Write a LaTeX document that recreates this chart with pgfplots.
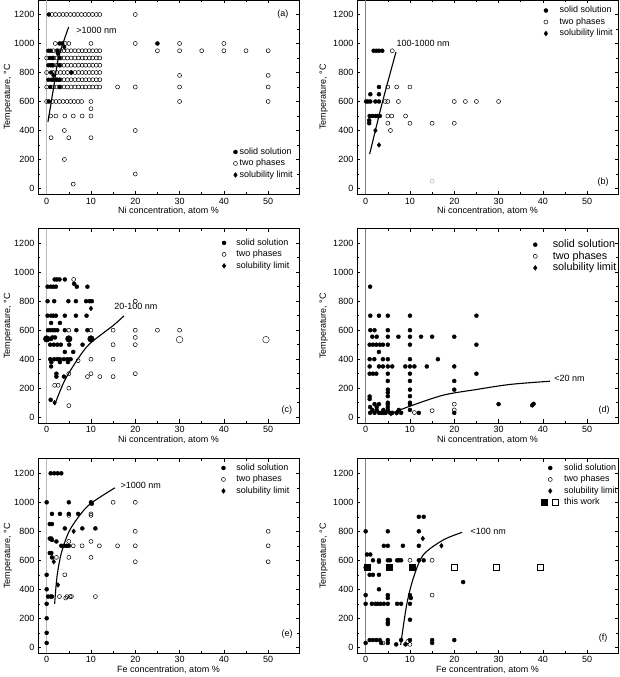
\documentclass[border=0pt]{standalone}
\usepackage{pgfplots}
\pgfplotsset{compat=1.18}
\usepackage{fontspec}
\setmainfont{Liberation Sans}
\newcommand\fs{\fontsize{9}{10}\selectfont}
\newcommand\fd{\fontsize{10.8}{12}\selectfont}
\def\lgap{12pt}
\pgfplotsset{
 ssol/.style={only marks, mark=*, mark size=2pt, black, legend image code/.code={\draw[black, mark=*, mark size=2pt] plot coordinates {(0pt,0pt)}; \path[draw=none, fill=none] (-2.5pt,-2.5pt) rectangle (\lgap,2.5pt);}},
 twoph/.style={only marks, mark=o, mark size=2pt, black, mark options={line width=0.5pt}, legend image code/.code={\draw[black, mark=o, mark size=2pt, line width=0.5pt] plot coordinates {(0pt,0pt)}; \path[draw=none, fill=none] (-2.5pt,-2.5pt) rectangle (\lgap,2.5pt);}},
 sollim/.style={only marks, mark=diamond*, mark size=2.4pt, black, legend image code/.code={\draw[black, mark=diamond*, mark size=2.4pt] plot coordinates {(0pt,0pt)}; \path[draw=none, fill=none] (-2.5pt,-2.5pt) rectangle (\lgap,2.5pt);}},
 curve/.style={black, line width=1.1pt, smooth, forget plot, mark=none},
 panel/.style={scale only axis, width=261.4pt, height=194.3pt, anchor=south west,
   xmin=-2, xmax=57, ymin=-40, ymax=1300, xtick={0,10,...,50}, ytick={0,200,...,1200},
   minor x tick num=1, minor y tick num=1, tick align=inside, major tick length=3.5pt, minor tick length=2pt,
   tick style={black, line width=0.5pt}, axis line style={line width=0.6pt},
   ylabel={Temperature, °C}, ticklabel style={font=\fs}, label style={font=\fs},
   /pgf/number format/assume math mode=true, /pgf/number format/1000 sep={}, scaled ticks=false,
   xlabel style={at={(axis description cs:0.5,-0.084)}, anchor=center},
   legend cell align=left,
   legend style={draw=none, fill=none, font=\fs, anchor=north east, inner sep=0pt, outer sep=0pt, row sep=2.1pt, column sep=0pt, nodes={inner sep=0.5pt, text height=6.5pt, text depth=1.9pt}}},
 lcol/.style={panel, ylabel style={at={(axis description cs:-0.114,0.5)}, anchor=center}},
 rcol/.style={panel, ylabel style={at={(axis description cs:-0.127,0.5)}, anchor=center}},
}
\begin{document}
\begin{tikzpicture}
\path[use as bounding box] (0,0) rectangle (619pt,677pt);

% ---------------- (a)
\def\lgap{3.7pt}
\begin{axis}[lcol, at={(37.8pt,482.7pt)}, xlabel={Ni concentration, atom \%}, legend style={at={(0.977,0.242)}}]
\addlegendimage{ssol}\addlegendentry{solid solution}
\addlegendimage{twoph}\addlegendentry{two phases}
\addlegendimage{sollim}\addlegendentry{solubility limit}
\addplot[forget plot, gray!55, line width=1.3pt] coordinates {(0,-40) (0,1300)};
\addplot[twoph, forget plot] coordinates {
(1.2,1200)(2.0,1200)(2.85,1200)(3.7,1200)(4.5,1200)(5.35,1200)(6.2,1200)(7.0,1200)(7.85,1200)(8.7,1200)(9.5,1200)(10.35,1200)(11.2,1200)(12.0,1200)(20,1200)
(1.95,1000)(4.2,1000)(5.0,1000)(10,1000)(20,1000)(30,1000)(40,1000)
(1.5,950)(2.3,950)(3.1,950)(3.9,950)(4.7,950)(5.5,950)(6.4,950)(7.2,950)(8.0,950)(8.8,950)(9.6,950)(10.4,950)(11.2,950)(12.0,950)
(1.5,900)(2.3,900)(3.1,900)(3.9,900)(4.7,900)(5.5,900)(6.4,900)(7.2,900)(8.0,900)(8.8,900)(9.6,900)(10.4,900)(11.2,900)(12.0,900)
(1.5,850)(2.3,850)(3.1,850)(3.9,850)(4.7,850)(5.5,850)(6.4,850)(7.2,850)(8.0,850)(8.8,850)(9.6,850)(10.4,850)(11.2,850)(12.0,850)
(1.5,800)(2.3,800)(3.1,800)(3.9,800)(4.7,800)(5.5,800)(6.4,800)(7.2,800)(8.0,800)(8.8,800)(9.6,800)(10.4,800)(11.2,800)(12.0,800)
(1.5,750)(2.3,750)(3.1,750)(3.9,750)(4.7,750)(5.5,750)(6.4,750)(7.2,750)(8.0,750)(8.8,750)(9.6,750)(10.4,750)(11.2,750)(12.0,750)
(1.5,700)(2.3,700)(3.1,700)(3.9,700)(4.7,700)(5.5,700)(6.4,700)(7.2,700)(8.0,700)(8.8,700)(9.6,700)(10.4,700)(11.2,700)(12.0,700)
(0,900)(0,800)(0,700)
(25,950)(30,950)(35,950)(40,950)(45,950)(50,950)
(30,780)(50,780)(16,700)(20,700)(30,700)(50,700)
(0,600)(1.3,600)(2.1,600)(2.9,600)(3.7,600)(4.6,600)(5.4,600)(6.2,600)(7.1,600)(7.9,600)(10,600)(30,600)(50,600)
(10,550)(0.9,500)(2.1,500)(4.1,500)(6.0,500)(8.0,500)(10,500)
(4,400)(20,400)(1,350)(5,350)(10,350)(4,200)(20,100)(6,30)};
\addplot[ssol, forget plot] coordinates {
(0.5,1200)(0.4,950)(0.9,950)(2.5,950)(0.7,900)(1.3,900)(2.9,900)(0.4,850)(0.9,850)(1.3,850)(2.9,850)
(1.0,800)(0.4,750)(1.1,750)(1.8,750)(2.4,750)(2.9,750)(0.8,700)(2.9,700)(0.5,600)(2.9,1000)(3.5,1000)(25,1000)};
\addplot[sollim, forget plot] coordinates {(1.5,780)(2.5,930)(4.0,975)(5.6,800)};
\addplot[curve] coordinates {(0.29,459)(1.57,697)(2.55,885)(3.68,1000)(4.96,1114)};
\node[font=\fs, anchor=west] at (axis cs:5.9,1090) {>1000 nm};
\node[font=\fs] at (axis cs:53.3,1202) {(a)};
\end{axis}

% ---------------- (b)
\def\lgap{13.3pt}
\begin{axis}[rcol, at={(356.8pt,482.7pt)}, xlabel={Ni concentration, atom \%}, legend style={at={(0.981,0.970)}}]
\addlegendimage{ssol}\addlegendentry{solid solution}
\addlegendimage{twoph}\addlegendentry{two phases}
\addlegendimage{sollim}\addlegendentry{solubility limit}
\addplot[forget plot, gray, line width=0.6pt] coordinates {(0,-40) (0,1300)};
\addplot[twoph, forget plot] coordinates {
(6,950)(5,700)(7,700)(10,700)(4.4,600)(5,600)(7.4,600)(20,600)(22.5,600)(25,600)(30,600)
(5,500)(5.9,500)(9,500)(5,450)(10,450)(15,450)(20,450)(5.6,400)};
\addplot[only marks, mark=o, mark size=2pt, gray!70, forget plot] coordinates {(15,50)};
\addplot[ssol, forget plot] coordinates {
(1.8,950)(2.4,950)(3.0,950)(3.75,950)(3.0,700)(1.05,650)(3.0,650)
(0.1,600)(0.5,600)(1.05,600)(2.2,600)(3.0,600)
(0.9,500)(1.5,500)(2.2,500)(2.7,500)(3.2,500)(0.8,470)(0.8,450)};
\addplot[sollim, forget plot] coordinates {(2.2,400)(3.0,300)};
\addplot[curve] coordinates {(0.9,237)(3.7,586)(6.85,942)};
\node[font=\fs, anchor=west] at (axis cs:6.2,1000) {100-1000 nm};
\node[font=\fs] at (axis cs:53.6,45) {(b)};
\end{axis}

% ---------------- (c)
\def\lgap{11.7pt}
\begin{axis}[lcol, at={(37.8pt,254pt)}, xlabel={Ni concentration, atom \%}, legend style={at={(0.964,0.951)}}]
\addlegendimage{ssol}\addlegendentry{solid solution}
\addlegendimage{twoph}\addlegendentry{two phases}
\addlegendimage{sollim}\addlegendentry{solubility limit}
\addplot[forget plot, gray!55, line width=1.3pt] coordinates {(0,-40) (0,1300)};
\addplot[twoph, forget plot] coordinates {
(6.1,950)(20,800)(5,600)(10,600)(15,600)(20,600)(25,600)(30,600)(20,550)(15,500)(20,500)
(7.1,390)(10,400)(15,400)(5,300)(9.2,280)(10,300)(12,280)(15,280)(20,300)(1.8,220)(2.6,220)(5,200)(5,80)};
\addplot[only marks, mark=o, mark size=3.3pt, black, forget plot] coordinates {(30,535)(49.5,535)};
\addplot[ssol, forget plot] coordinates {
(1.8,950)(2.3,950)(2.9,950)(4.1,950)(0.2,900)(0.9,900)(1.5,900)(2.1,900)(9.2,900)(6.2,920)(6.8,900)
(0.2,800)(1.7,800)(4.9,800)(6.6,800)(8.9,800)(9.7,800)(10.2,800)
(0.2,700)(1.0,700)(1.5,700)(2.1,700)(4.1,700)(6.6,700)(9.0,700)(1.0,650)(3.0,650)
(0.3,600)(0.8,600)(1.4,600)(1.9,600)(2.4,600)(4.1,600)(6.7,600)(9.2,600)
(1.3,550)(1.9,550)(0.6,540)(1.0,540)
(0.8,500)(1.6,500)(2.4,500)(3.2,500)(5.1,500)(8.1,500)(4.1,450)(6.0,450)
(0.8,400)(1.7,400)(2.4,400)(3.0,400)(3.9,400)(4.7,400)(5.4,400)(1.05,380)(3.0,380)(4.8,380)(1.0,350)
(2.2,300)(2.2,280)(3.9,280)(0.9,120)};
\addplot[only marks, mark=*, mark size=3.3pt, black, forget plot] coordinates {(0,540)(5,540)(10,540)};
\addplot[sollim, forget plot] coordinates {(1.8,100)(10,750)};
\addplot[curve] coordinates {(1.8,85)(4.06,253)(7.07,403)(9.7,506)(15,632)(17.45,699)};
\node[font=\fs, anchor=west] at (axis cs:14.5,765) {20-100 nm};
\node[font=\fs] at (axis cs:54.2,46) {(c)};
\end{axis}

% ---------------- (d)
\def\lgap{17pt}
\begin{axis}[rcol, at={(356.8pt,254pt)}, xlabel={Ni concentration, atom \%}, legend style={at={(0.995,0.946)}, font=\fd, row sep=0.6pt, nodes={inner sep=0.5pt, text height=7.8pt, text depth=2.2pt}}]
\addlegendimage{ssol}\addlegendentry{solid solution}
\addlegendimage{twoph}\addlegendentry{two phases}
\addlegendimage{sollim}\addlegendentry{solubility limit}
\addplot[forget plot, gray, line width=0.6pt] coordinates {(0,-40) (0,1300)};
\addplot[twoph, forget plot] coordinates {(15,45)(20,90)(20,50)(11,32)};
\addplot[ssol, forget plot] coordinates {
(1,900)(1.05,700)(3.0,700)(5.0,700)(10,700)(25,700)
(1.05,600)(2.0,600)(5.0,600)(10,600)
(1.5,555)(2.5,555)(5,555)(7.4,555)(10,555)(12.5,555)(15,555)(20,555)
(0.9,500)(1.65,500)(2.4,500)(3.2,500)(3.9,500)(5.0,500)(10,500)(25,500)(3.0,450)
(0.9,400)(1.95,400)(3.9,400)(5.0,400)(10,400)(16.3,400)
(0.9,350)(3.0,350)(3.9,350)(5.0,350)(6.0,350)(8.95,350)(10,350)(11.0,350)(13.8,350)(20,350)
(0.9,300)(1.65,300)(2.4,300)(5.0,300)(10,300)(25,300)
(5,250)(10,250)(20,250)(5,190)(10,190)(20,190)(5,170)(5,145)(10,145)(0.9,143)(0.9,125)(5,100)(10,100)(5,50)(10,50)
(2,90)(3,90)(5,90)(10,90)(1,70)(2.5,70)(5,70)(1.5,50)(2.5,50)(4,50)(7.5,50)
(1,30)(2,30)(3,30)(3.5,30)(4,30)(4.5,30)(5.5,30)(6,30)(7,30)(8,30)(12,30)(20,30)
(30,90)(37.6,82)(37.9,92)};
\addplot[sollim, forget plot] coordinates {(5.7,25)(7,30)};
\addplot[curve] coordinates {(5.7,25)(10,76)(17.5,152)(25,191)(32.6,226)(41.6,248)};
\node[font=\fs, anchor=west] at (axis cs:41.8,265) {<20 nm};
\node[font=\fs] at (axis cs:53.8,46) {(d)};
\end{axis}

% ---------------- (e)
\def\lgap{12.3pt}
\begin{axis}[lcol, at={(37.8pt,23.9pt)}, xlabel={Fe concentration, atom \%}, legend style={at={(0.964,0.977)}}]
\addlegendimage{ssol}\addlegendentry{solid solution}
\addlegendimage{twoph}\addlegendentry{two phases}
\addlegendimage{sollim}\addlegendentry{solubility limit}
\addplot[forget plot, gray!55, line width=1.3pt] coordinates {(0,-40) (0,1300)};
\addplot[twoph, forget plot] coordinates {
(15,1000)(20,1000)(5,910)(10,910)(10,920)(20,800)(50,800)(5,730)(10,730)
(6,700)(8,700)(11.9,700)(16,700)(20,700)(50,700)(2.2,620)(5,620)(10,620)(20,590)(50,590)
(4.1,500)(2.9,350)(4.6,350)(5.3,350)(5.6,350)(11,350)(4.3,340)};
\addplot[ssol, forget plot] coordinates {
(0.9,1200)(1.7,1200)(2.5,1200)(3.3,1200)(0,1000)(5.0,1000)(10,1000)(10.2,990)
(1.2,920)(3.0,920)(5.0,920)(7.1,920)(0.7,850)(1.2,850)(4.1,820)(8.05,820)(11,820)
(0.7,750)(1.05,750)(1.2,740)(2.2,730)(3.3,700)(3.9,700)(4.5,700)(5.0,700)
(0.7,650)(1.05,650)(1.2,620)(0,500)(0,400)(0.3,350)(0.9,350)(1.2,350)(0,300)(0,200)(0,100)(0,30)};
\addplot[sollim, forget plot] coordinates {(6.1,800)(1.6,590)(2.55,430)};
\addplot[curve] coordinates {(1.8,299)(2.33,487)(3.3,648)(5.03,797)(7.5,912)(10,993)(15.4,1100)};
\node[font=\fs, anchor=west] at (axis cs:15.9,1115) {>1000 nm};
\node[font=\fs] at (axis cs:54.3,92) {(e)};
\end{axis}

% ---------------- (f)
\def\lgap{13.4pt}
\begin{axis}[rcol, at={(356.8pt,23.9pt)}, xlabel={Fe concentration, atom \%}, legend style={at={(0.998,0.977)}}]
\addlegendimage{ssol}\addlegendentry{solid solution}
\addlegendimage{twoph}\addlegendentry{two phases}
\addlegendimage{sollim}\addlegendentry{solubility limit}
\addlegendimage{legend image code/.code={\draw[black, fill=black] (-8.6pt,-3pt) rectangle (-2.6pt,3pt); \draw[black, fill=none, line width=0.6pt] (2pt,-3pt) rectangle (8pt,3pt); \path[draw=none, fill=none] (0pt,-5pt) -- (\lgap,0pt);}}\addlegendentry{this work}
\addplot[forget plot, gray, line width=0.6pt] coordinates {(0,-40) (0,1300)};
\addplot[twoph, forget plot] coordinates {(10,600)(15,600)(15,360)(3.9,30)(10,20)(9.5,40)};
\addplot[ssol, forget plot] coordinates {
(12.0,900)(13.1,900)(0,800)(5.0,800)(12.0,800)(4.1,700)(5.0,700)(8.4,700)(12,700)
(0.3,640)(1.05,640)(1.65,600)(3.0,600)(5.0,600)(5.5,600)(7.1,600)(7.5,600)(8.0,600)(12,600)(13.1,600)(3.0,590)
(0,550)(0.9,500)(1.65,500)(3.0,500)(22,450)(3.0,400)(0,360)(5.0,360)(10,360)(5.0,340)(10.2,340)
(0,300)(1.4,300)(2.2,300)(2.7,300)(3.3,300)(4.1,300)(5.0,300)(7.1,300)(8.0,300)(10,300)
(5,190)(10,190)(5,170)(5,160)
(0.9,50)(1.65,50)(2.4,50)(3.2,50)(5,50)(8.0,50)(10,50)(15,50)(20,50)(0,30)(3.5,30)(5,30)(15,30)(6.9,20)(9,20)};
\addplot[only marks, mark=square*, mark size=3pt, black, forget plot] coordinates {(0.3,550)(5.2,550)(10.5,550)};
\addplot[only marks, mark=square, mark size=3pt, black, mark options={line width=0.6pt}, forget plot] coordinates {(20,550)(29.5,555)(39.5,550)};
\addplot[sollim, forget plot] coordinates {(12.9,750)(17.1,700)};
\addplot[curve] coordinates {(7.9,16)(9.25,292)(10.75,476)(13,637)(17.5,740)(21.8,793)};
\node[font=\fs, anchor=west] at (axis cs:22.9,800) {<100 nm};
\node[font=\fs] at (axis cs:53.6,66) {(f)};
\end{axis}
\end{tikzpicture}
\end{document}
